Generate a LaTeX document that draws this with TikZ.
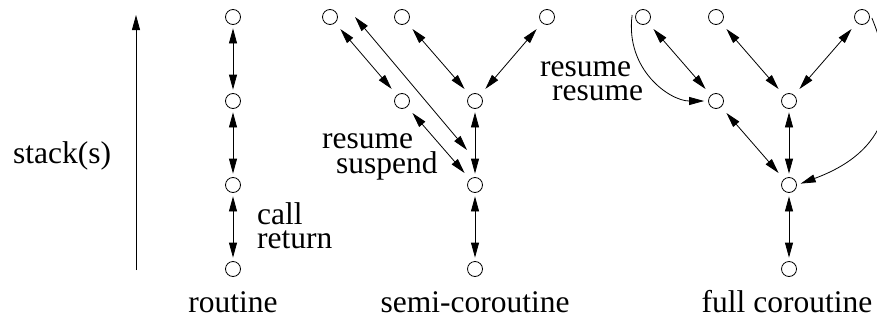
\documentclass[tikz,border=0pt]{standalone}
\usepackage{fontspec}
\setmainfont{Liberation Serif}
\usetikzlibrary{arrows.meta,calc}
\begin{document}
\begin{tikzpicture}[x=1pt,y=-1pt,
  st/.style={circle,draw,line width=0.8pt,minimum size=15pt,inner sep=0pt},
  lbl/.style={font=\fontsize{31.5}{36}\selectfont,inner sep=0pt},
  tight/.style={lbl,text height=20pt,text depth=0pt},
  tip/.tip={Triangle[length=15pt,width=8pt]},
  line/.style={line width=0.8pt},
  vconn/.style={line,tip-tip,shorten <=3.5pt,shorten >=3.5pt},
  dconn/.style={line,tip-tip,shorten <=8pt,shorten >=8pt},
  curv/.style={line,-tip,shorten >=4pt}]
\useasboundingbox (0,0) rectangle (877,324);

% stack arrow
\coordinate (sb) at (136,270);
\coordinate (stp) at (136,15);
\draw[line,-tip] (sb) -- (stp);
\node[lbl,anchor=base west] (stk) at (13,163) {stack(s)};

% routine
\node[st] (r1) at (233,17) {};
\node[st] (r2) at (233,101) {};
\node[st] (r3) at (233,185) {};
\node[st] (r4) at (233,269) {};
\draw[vconn] (r1) -- (r2);
\draw[vconn] (r2) -- (r3);
\draw[vconn] (r3) -- (r4);
\node[tight,anchor=base west] (call) at (257,224) {call};
\node[tight,anchor=base west] (ret) at (257,248) {return};
\node[lbl,anchor=base] (rname) at (233,312) {routine};

% semi-coroutine
\node[st] (sT1) at (330,17) {};
\node[st] (sT2) at (402,17) {};
\node[st] (sT3) at (547,17) {};
\node[st] (sM1) at (402,101) {};
\node[st] (sM2) at (475,101) {};
\node[st] (sL) at (475,185) {};
\node[st] (sB) at (475,269) {};
\draw[dconn] (sT1) -- (sM1);
\draw[dconn] (sT2) -- (sM2);
\draw[dconn] (sT3) -- (sM2);
\draw[dconn] (sM1) -- (sL);
\draw[vconn] (sM2) -- (sL);
\draw[vconn] (sL) -- (sB);
\coordinate (ls) at ($(sT1)+(25,0)$);
\coordinate (le) at ($(sL)+(-8,-35)$);
\draw[line,tip-tip] (ls) -- (le);
\node[tight,anchor=base west] (sres) at (322,148) {resume};
\node[tight,anchor=base west] (ssus) at (336,173) {suspend};
\node[lbl,anchor=base] (sname) at (475,312) {semi-coroutine};

% full coroutine
\node[st] (fT1) at (643,17) {};
\node[st] (fT2) at (716,17) {};
\node[st] (fT3) at (862,17) {};
\node[st] (fM1) at (716,101) {};
\node[st] (fM2) at (789,101) {};
\node[st] (fL) at (789,185) {};
\node[st] (fB) at (789,269) {};
\draw[dconn] (fT1) -- (fM1);
\draw[dconn] (fT2) -- (fM2);
\draw[dconn] (fT3) -- (fM2);
\draw[dconn] (fM1) -- (fL);
\draw[vconn] (fM2) -- (fL);
\draw[vconn] (fL) -- (fB);
\draw[curv] ($(fT1.west)+(-3,-2)$) .. controls ($(fT1)+(-18,53)$) and ($(fM1)+(-46,0)$) .. (fM1.west);
\draw[curv] ($(fT3.east)+(2,1)$) .. controls ($(fT3)+(43,83)$) and ($(fL)+(97,-33)$) .. (fL.east);
\node[tight,anchor=base west] (fres1) at (540,76) {resume};
\node[tight,anchor=base west] (fres2) at (552,100) {resume};
\node[lbl,anchor=base] (fname) at (787,312) {full coroutine};
\end{tikzpicture}
\end{document}
